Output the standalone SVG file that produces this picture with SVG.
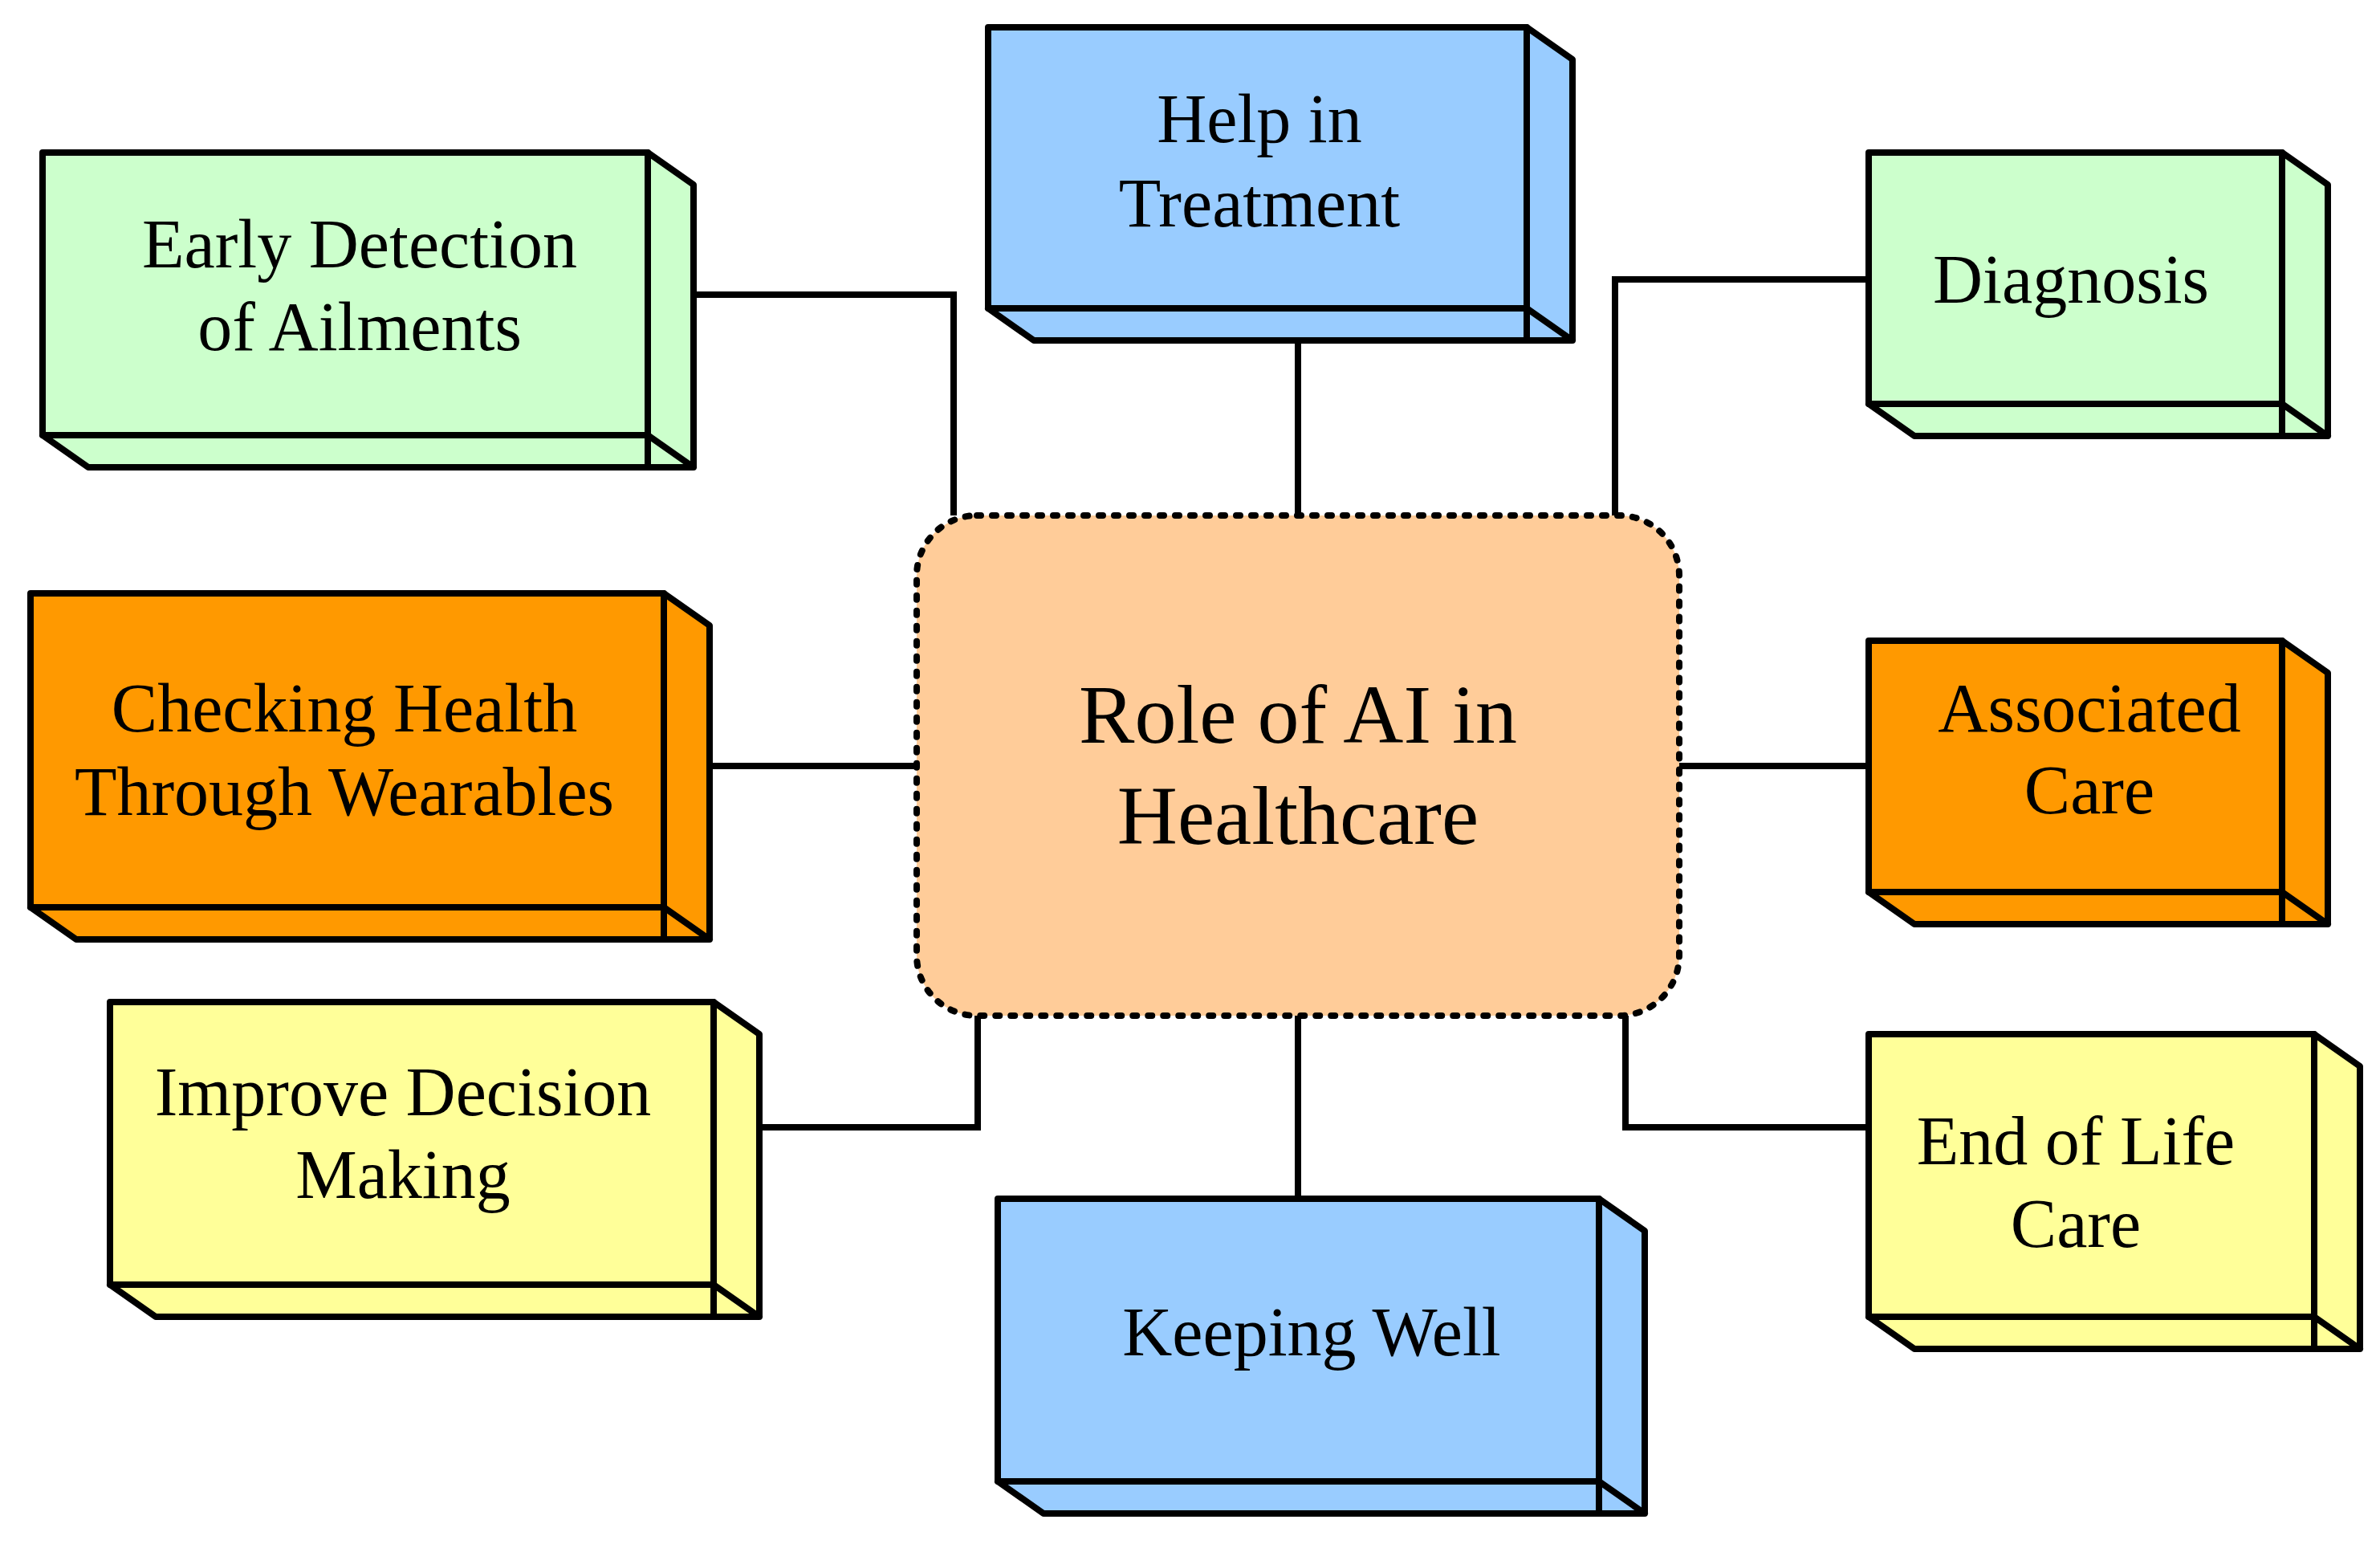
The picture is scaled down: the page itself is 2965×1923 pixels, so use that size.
<svg xmlns="http://www.w3.org/2000/svg" width="2965" height="1923" viewBox="0 0 2965 1923">
<style>
.f{stroke:#000;stroke-width:8;stroke-linejoin:round}
.t{font-family:"Liberation Serif",serif;font-size:86px;text-anchor:middle;dominant-baseline:central;fill:#000}
.c{fill:none;stroke:#000;stroke-width:8}
.g{fill:#CCFFCC}.b{fill:#99CCFF}.o{fill:#FF9900}.y{fill:#FFFF99}
</style>
<rect width="2965" height="1923" fill="#fff"/>
<g id="connectors">
<path class="c" d="M864,367H1188V642"/>
<path class="c" d="M1617,425V642"/>
<path class="c" d="M2326,348H2012V642"/>
<path class="c" d="M885,954H1142"/>
<path class="c" d="M2092,954H2328"/>
<path class="c" d="M947,1404H1218V1265"/>
<path class="c" d="M1617,1265V1493"/>
<path class="c" d="M2025,1265V1404H2328"/>
</g>
<g id="center">
<rect x="1142" y="642" width="950" height="623" rx="75" fill="#FFCC99" stroke="#000" stroke-width="8" stroke-dasharray="5 14" stroke-linecap="round"/>
<text class="t" style="font-size:104px" x="1617" y="889">Role of AI in</text>
<text class="t" style="font-size:104px" x="1617" y="1015">Healthcare</text>
</g>
<g id="early" transform="translate(53,190)">
<path class="f g" d="M754,0l57,40v352h-57zM0,352h754l57,40h-754z"/>
<rect class="f g" width="754" height="352"/>
<text class="t" x="395" y="114">Early Detection</text>
<text class="t" x="395" y="217">of Ailments</text>
</g>
<g id="help" transform="translate(1231,34)">
<path class="f b" d="M671,0l57,40v350h-57zM0,350h671l57,40h-671z"/>
<rect class="f b" width="671" height="350"/>
<text class="t" x="338" y="114">Help in</text>
<text class="t" x="338" y="219">Treatment</text>
</g>
<g id="diagnosis" transform="translate(2328,190)">
<path class="f g" d="M515,0l57,40v313h-57zM0,313h515l57,40h-515z"/>
<rect class="f g" width="515" height="313"/>
<text class="t" x="252" y="158">Diagnosis</text>
</g>
<g id="checking" transform="translate(38,739)">
<path class="f o" d="M789,0l57,40v391h-57zM0,391h789l57,40h-789z"/>
<rect class="f o" width="789" height="391"/>
<text class="t" x="391" y="143">Checking Health</text>
<text class="t" x="391" y="247">Through Wearables</text>
</g>
<g id="associated" transform="translate(2328,798)">
<path class="f o" d="M515,0l57,40v313h-57zM0,313h515l57,40h-515z"/>
<rect class="f o" width="515" height="313"/>
<text class="t" x="275" y="84">Associated</text>
<text class="t" x="275" y="186">Care</text>
</g>
<g id="improve" transform="translate(137,1248)">
<path class="f y" d="M752,0l57,40v352h-57zM0,352h752l57,40h-752z"/>
<rect class="f y" width="752" height="352"/>
<text class="t" x="365" y="112">Improve Decision</text>
<text class="t" x="365" y="215">Making</text>
</g>
<g id="keeping" transform="translate(1243,1493)">
<path class="f b" d="M749,0l57,40v352h-57zM0,352h749l57,40h-749z"/>
<rect class="f b" width="749" height="352"/>
<text class="t" x="391" y="166">Keeping Well</text>
</g>
<g id="endoflife" transform="translate(2328,1288)">
<path class="f y" d="M555,0l57,40v352h-57zM0,352h555l57,40h-555z"/>
<rect class="f y" width="555" height="352"/>
<text class="t" x="258" y="133">End of Life</text>
<text class="t" x="258" y="236">Care</text>
</g>
</svg>
